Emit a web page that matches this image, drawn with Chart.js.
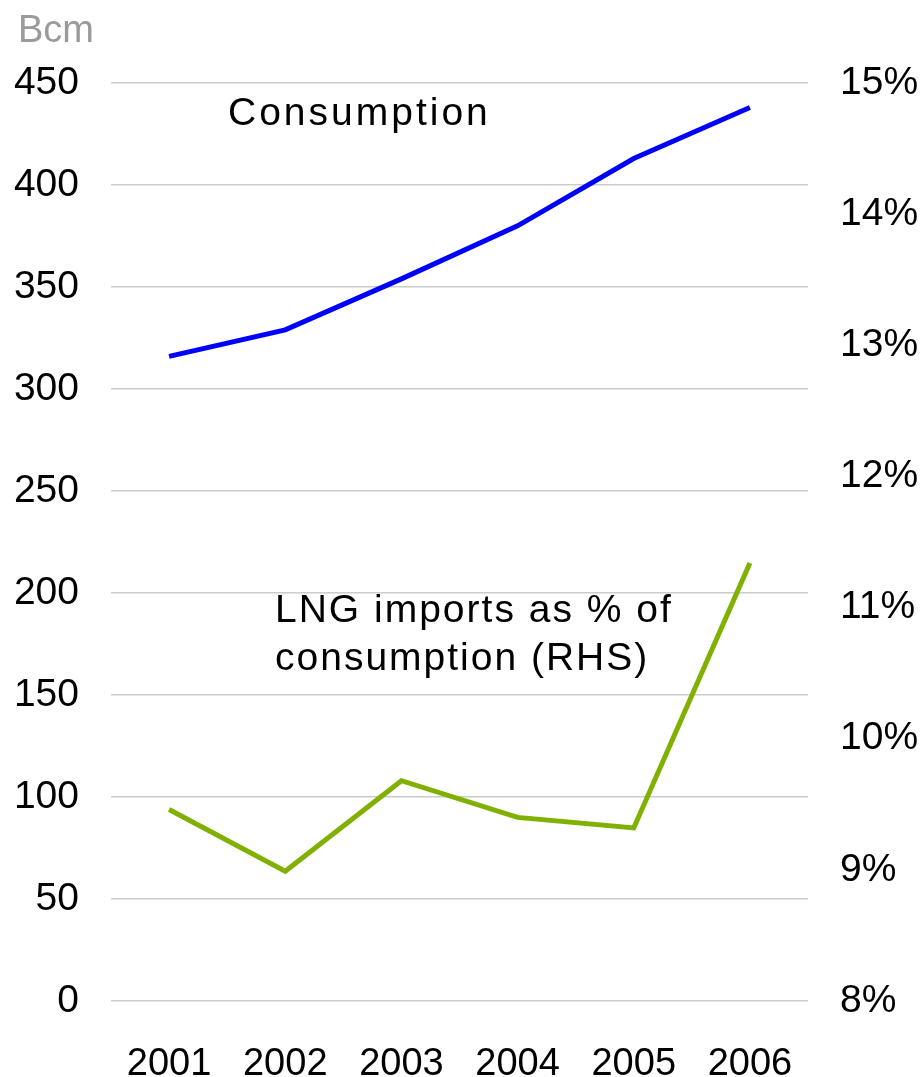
<!DOCTYPE html>
<html>
<head>
<meta charset="utf-8">
<script src="https://cdn.jsdelivr.net/npm/chart.js@4"></script>
<style>
  html, body { margin: 0; padding: 0; background: #ffffff; }
  #wrap { width: 924px; height: 1077px; }
</style>
</head>
<body>
<div id="wrap"><canvas id="myChart" width="924" height="1077"></canvas></div>
<script>
const years = ["2001", "2002", "2003", "2004", "2005", "2006"];
const consumption = [316, 329, 354, 380, 413, 438];     // Bcm, left axis
const lngShare = [9.46, 8.99, 9.68, 9.40, 9.32, 11.34]; // %, right axis

const FONT = "'Liberation Sans', Arial, sans-serif";

// free text labels drawn on the canvas
const notesPlugin = {
  id: "notes",
  afterDatasetsDraw(chart) {
    const ctx = chart.ctx;
    const area = chart.chartArea;
    ctx.save();
    ctx.textAlign = "left";
    ctx.textBaseline = "alphabetic";

    ctx.font = "38px " + FONT;
    ctx.fillStyle = "#9a9a9a";
    ctx.letterSpacing = "0px";
    ctx.fillText("Bcm", 18, 42);

    ctx.font = "39px " + FONT;
    ctx.fillStyle = "#000000";
    ctx.letterSpacing = "3px";
    ctx.fillText("Consumption", area.left + 117, 125);
    ctx.letterSpacing = "2px";
    ctx.fillText("LNG imports as % of", area.left + 164, 622);
    ctx.fillText("consumption (RHS)", area.left + 164, 670);
    ctx.restore();
  }
};

const canvas = document.getElementById("myChart");
const ctx = canvas.getContext("2d");

new Chart(ctx, {
  type: "line",
  data: {
    labels: years,
    datasets: [
      {
        label: "Consumption",
        data: consumption,
        yAxisID: "y",
        borderColor: "#0000ff",
        borderWidth: 5,
        pointRadius: 0,
        tension: 0,
        fill: false
      },
      {
        label: "LNG imports as % of consumption (RHS)",
        data: lngShare,
        yAxisID: "y1",
        borderColor: "#80b000",
        borderWidth: 5,
        pointRadius: 0,
        tension: 0,
        fill: false
      }
    ]
  },
  options: {
    responsive: false,
    animation: false,
    layout: { padding: { top: 83, left: 0, right: 0, bottom: 0 } },
    plugins: {
      legend: { display: false },
      tooltip: { enabled: false }
    },
    scales: {
      x: {
        offset: true,
        grid: { display: false },
        border: { display: false },
        ticks: { color: "#000", font: { family: FONT, size: 38 }, padding: 33 },
        afterFit(scale) { scale.height = 76; }
      },
      y: {
        position: "left",
        min: 0,
        max: 450,
        grid: { color: "#cccccc", lineWidth: 1.5, drawTicks: false },
        border: { display: false },
        ticks: { stepSize: 50, color: "#000", font: { family: FONT, size: 39 }, padding: 32 },
        afterFit(scale) { scale.width = 111; }
      },
      y1: {
        position: "right",
        min: 8,
        max: 15,
        grid: { display: false, drawOnChartArea: false },
        border: { display: false },
        ticks: {
          stepSize: 1,
          color: "#000",
          font: { family: FONT, size: 39 },
          padding: 24,
          callback: v => v + "%"
        },
        afterFit(scale) { scale.width = 116; }
      }
    }
  },
  plugins: [notesPlugin]
});
</script>
</body>
</html>
